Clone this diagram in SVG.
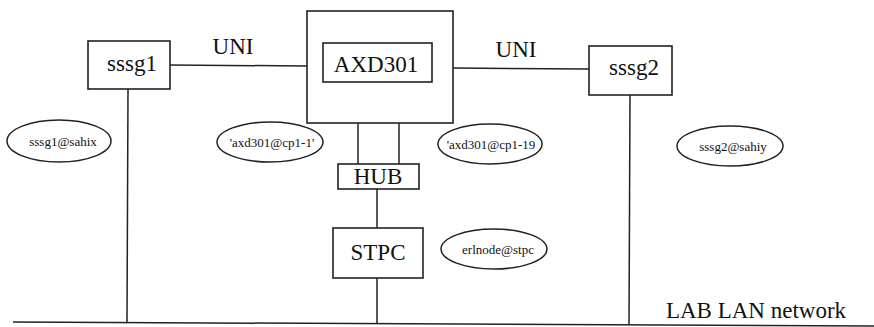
<svg xmlns="http://www.w3.org/2000/svg" width="874" height="327" viewBox="0 0 874 327">
<style>
.box{fill:#fff;stroke:#222;stroke-width:1.6}
.ell{fill:#fff;stroke:#222;stroke-width:1.5}
.ln{stroke:#222;stroke-width:1.5;fill:none}
.big{font-family:"Liberation Serif","Times New Roman",serif;font-size:23px;fill:#111;text-anchor:middle}
.sm{font-family:"Liberation Serif","Times New Roman",serif;font-size:13px;fill:#111;text-anchor:middle}
</style>
<rect width="874" height="327" fill="#fff"/>
<g id="connectors">
<line class="ln" x1="170" y1="65" x2="307" y2="66"/>
<line class="ln" x1="453" y1="68" x2="589" y2="69"/>
<line class="ln" x1="128" y1="89" x2="127" y2="322"/>
<line class="ln" x1="630" y1="95" x2="629" y2="325"/>
<line class="ln" x1="358" y1="123" x2="358" y2="164"/>
<line class="ln" x1="399" y1="123" x2="399" y2="164"/>
<line class="ln" x1="377" y1="189" x2="377" y2="228"/>
<line class="ln" x1="377" y1="278" x2="377" y2="324"/>
<line class="ln" x1="13" y1="322" x2="874" y2="326" stroke-width="2"/>
</g>
<g id="uni-left"><text class="big" x="233" y="54">UNI</text></g>
<g id="uni-right"><text class="big" x="516" y="57">UNI</text></g>
<g id="sssg1">
<rect class="box" x="88" y="41" width="82" height="48"/>
<text class="big" x="132" y="71">sssg1</text>
</g>
<g id="axd301">
<rect class="box" x="307" y="11" width="146" height="112"/>
<rect class="box" x="323" y="43" width="109" height="39"/>
<text class="big" x="376" y="72">AXD301</text>
</g>
<g id="sssg2">
<rect class="box" x="589" y="46" width="83" height="49"/>
<text class="big" x="634" y="75">sssg2</text>
</g>
<g id="hub">
<rect class="box" x="338" y="164" width="81" height="25"/>
<text class="big" x="378" y="184">HUB</text>
</g>
<g id="stpc">
<rect class="box" x="333" y="228" width="90" height="50"/>
<text class="big" x="378" y="260">STPC</text>
</g>
<g id="e-sssg1">
<ellipse class="ell" cx="59" cy="141" rx="52" ry="21"/>
<text class="sm" x="63" y="146">sssg1@sahix</text>
</g>
<g id="e-cp1-1">
<ellipse class="ell" cx="270" cy="142" rx="53" ry="20"/>
<text class="sm" x="272" y="147">'axd301@cp1-1'</text>
</g>
<g id="e-cp1-19">
<ellipse class="ell" cx="490" cy="144" rx="52" ry="20"/>
<text class="sm" x="491" y="149">'axd301@cp1-19</text>
</g>
<g id="e-sssg2">
<ellipse class="ell" cx="730" cy="146" rx="53" ry="20"/>
<text class="sm" x="733" y="151">sssg2@sahiy</text>
</g>
<g id="e-erlnode">
<ellipse class="ell" cx="494" cy="249" rx="53" ry="20"/>
<text class="sm" x="498" y="254">erlnode@stpc</text>
</g>
<g id="lab-lan"><text class="big" x="756" y="318" font-size="24">LAB LAN network</text></g>
</svg>
